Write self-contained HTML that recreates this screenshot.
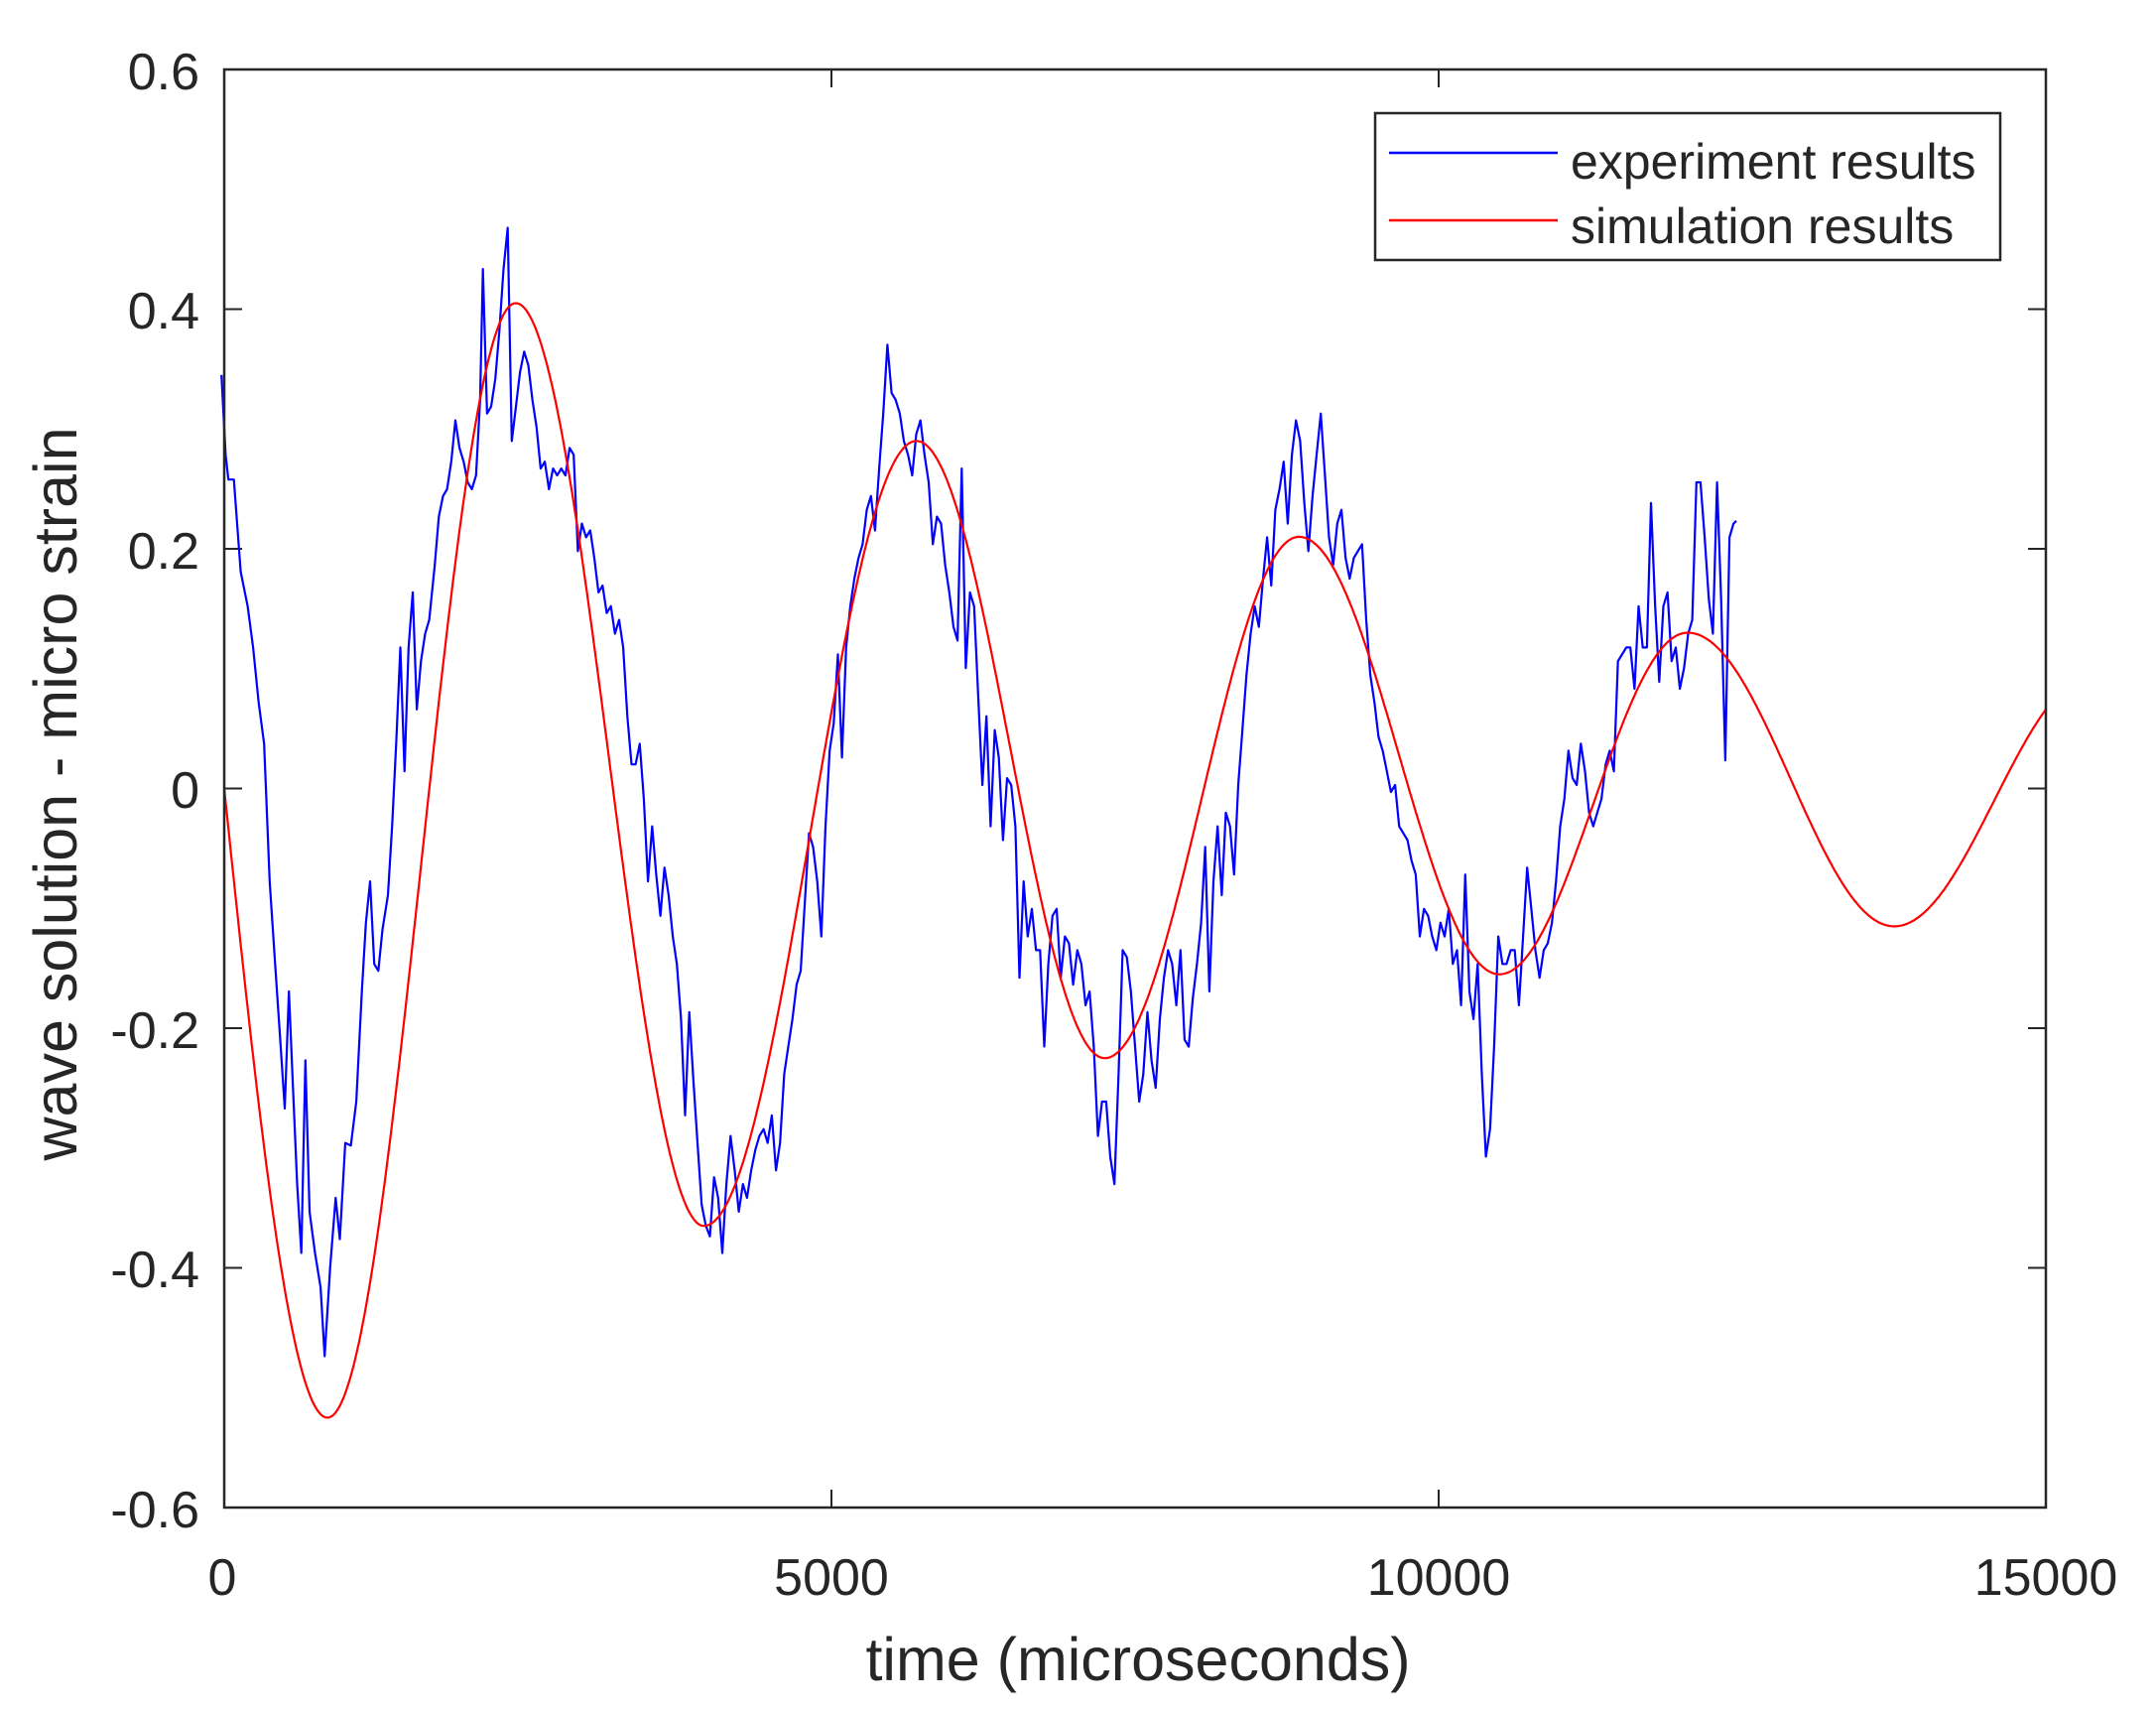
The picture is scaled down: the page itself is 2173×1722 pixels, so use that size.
<!DOCTYPE html>
<html><head><meta charset="utf-8"><style>
html,body{margin:0;padding:0;background:#fff;}
svg{display:block;}
text{font-family:"Liberation Sans",Arial,sans-serif;fill:#262626;}
</style></head><body>
<svg id="s" width="2173" height="1722" viewBox="0 0 2173 1722" xmlns="http://www.w3.org/2000/svg">
<rect x="0" y="0" width="2173" height="1722" fill="#fff"/>
<g id="ticks" stroke="#262626" stroke-width="2"></g>
<g font-size="52" text-anchor="end">
<text x="201" y="90">0.6</text>
<text x="201" y="331">0.4</text>
<text x="201" y="573">0.2</text>
<text x="201" y="814">0</text>
<text x="201" y="1056">-0.2</text>
<text x="201" y="1297">-0.4</text>
<text x="201" y="1539">-0.6</text>
</g>
<g font-size="52" text-anchor="middle">
<text x="224" y="1607">0</text>
<text x="838" y="1607">5000</text>
<text x="1450" y="1607">10000</text>
<text x="2062" y="1607">15000</text>
</g>
<text x="1147" y="1693" font-size="61" text-anchor="middle">time (microseconds)</text>
<text transform="translate(77,800) rotate(-90)" font-size="61" text-anchor="middle">wave solution - micro strain</text>
<path id="blue" fill="none" stroke="#0000ff" stroke-width="2.2" stroke-linejoin="round"/>
<path id="red" fill="none" stroke="#ff0000" stroke-width="2.2"/>
<rect x="226" y="70" width="1836" height="1449" fill="none" stroke="#262626" stroke-width="2.5"/>
<rect x="1386" y="114" width="630" height="148" fill="#fff" stroke="#262626" stroke-width="2.5"/>
<line x1="1400" y1="154" x2="1570" y2="154" stroke="#0000ff" stroke-width="2.5"/>
<line x1="1400" y1="222" x2="1570" y2="222" stroke="#ff0000" stroke-width="2.5"/>
<text x="1583" y="180" font-size="50">experiment results</text>
<text x="1583" y="245" font-size="50">simulation results</text>
</svg>
<script>
var L=226,R=2062,T=70,B=1519;
function X(t){return L+(t/15000)*(R-L);}
function Y(v){return T+(0.6-v)/1.2*(B-T);}
var tk="";
for(var i=0;i<=3;i++){var x=X(i*5000);tk+='<line x1="'+x+'" y1="'+B+'" x2="'+x+'" y2="'+(B-18)+'"/><line x1="'+x+'" y1="'+T+'" x2="'+x+'" y2="'+(T+18)+'"/>';}
for(var j=0;j<=6;j++){var y=Y(-0.6+j*0.2);tk+='<line x1="'+L+'" y1="'+y+'" x2="'+(L+18)+'" y2="'+y+'"/><line x1="'+R+'" y1="'+y+'" x2="'+(R-18)+'" y2="'+y+'"/>';}
document.getElementById('ticks').innerHTML=tk;
var ex=[[850,-0.525],[2400,0.405],[3950,-0.365],[5700,0.29],[7250,-0.225],[8850,0.21],[10500,-0.155],[12050,0.13],[13750,-0.115],[15400,0.095]];
function red(t){
 if(t<=850)return -0.525*Math.sin(Math.PI/2*t/850);
 for(var k=0;k<ex.length-1;k++){if(t<=ex[k+1][0]){var a=ex[k],b=ex[k+1];var f=(t-a[0])/(b[0]-a[0]);return a[1]+(b[1]-a[1])*(1-Math.cos(Math.PI*f))/2;}}
 return 0;}
var d="";
for(var t=0;t<=15000;t+=15){d+=(t?"L":"M")+X(t).toFixed(1)+","+Y(red(t)).toFixed(1);}
document.getElementById('red').setAttribute('d',d);
var bp=[161,272,164,330,166,348,170,348,175,415,180,440,184,470,188,510,192,540,196,640,200,700,204,760,207,805,210,720,213,790,216,860,219,910,222,770,225,880,229,910,233,935,236,985,240,920,244,870,247,900,251,830,255,832,259,800,263,720,266,670,269,640,272,700,275,705,278,675,282,650,285,600,288,540,291,470,294,560,297,470,300,430,303,515,306,480,309,460,312,450,316,410,319,375,322,360,325,355,328,335,331,305,334,325,337,335,340,350,343,355,346,345,349,290,351,195,354,300,357,295,360,275,363,240,366,195,369,165,372,320,375,295,378,270,381,255,384,265,387,290,390,310,393,340,396,335,399,355,402,340,405,345,408,340,411,345,414,325,417,330,420,400,423,380,426,390,429,385,432,405,435,430,438,425,441,445,444,440,447,460,450,450,453,470,456,520,459,555,462,555,465,540,468,580,471,640,474,600,477,635,480,665,483,630,486,650,489,680,492,700,495,740,498,810,501,735,504,785,507,830,510,875,513,890,516,898,519,855,522,870,525,910,528,860,531,825,534,850,537,880,540,860,543,870,546,850,549,835,552,825,555,820,558,830,561,810,564,850,567,830,570,780,573,760,576,740,579,715,582,705,585,655,588,605,591,615,594,640,597,680,600,600,603,545,606,525,609,475,612,550,615,470,618,440,621,420,624,405,627,395,630,370,633,360,636,385,639,340,642,300,645,250,648,285,651,290,654,300,657,320,660,330,663,345,666,315,669,305,672,330,675,350,678,395,681,375,684,380,687,410,690,430,693,455,696,465,699,340,702,485,705,430,708,440,711,505,714,570,717,520,720,600,723,530,726,550,729,610,732,565,735,570,738,600,741,710,744,640,747,680,750,660,753,690,756,690,759,760,762,700,765,665,768,660,771,710,774,680,777,685,780,715,783,690,786,700,789,730,792,720,795,760,798,825,801,800,804,800,807,840,810,860,813,780,816,690,819,695,822,720,825,760,828,800,831,780,834,735,837,770,840,790,843,740,846,710,849,690,852,700,855,730,858,690,861,755,864,760,867,725,870,700,873,670,876,615,879,720,882,640,885,600,888,650,891,590,894,600,897,635,900,570,903,530,906,490,909,460,912,440,915,455,918,420,921,390,924,425,927,370,930,355,933,335,936,380,939,330,942,305,945,320,948,365,951,400,954,360,957,330,960,300,963,345,966,390,969,410,972,380,975,370,978,405,981,420,984,405,987,400,990,395,993,450,996,490,999,510,1002,535,1005,545,1008,560,1011,575,1014,570,1017,600,1020,605,1023,610,1026,625,1029,635,1032,680,1035,660,1038,665,1041,680,1044,690,1047,670,1050,680,1053,660,1056,700,1059,690,1062,730,1065,635,1068,720,1071,740,1074,700,1077,780,1080,840,1083,820,1086,760,1089,680,1092,700,1095,700,1098,690,1101,690,1104,730,1107,680,1110,630,1113,660,1116,690,1119,710,1122,690,1125,685,1128,670,1131,640,1134,600,1137,580,1140,545,1143,565,1146,570,1149,540,1152,560,1155,590,1158,600,1161,590,1164,580,1167,555,1170,545,1173,560,1176,480,1179,475,1182,470,1185,470,1188,500,1191,440,1194,470,1197,470,1200,365,1203,440,1206,495,1209,440,1212,430,1215,480,1218,470,1221,500,1224,485,1227,460,1230,450,1233,350,1236,350,1239,390,1242,435,1245,460,1248,350,1251,435,1254,552,1257,390,1260,380,1262,378];
var db="";
for(var i=0;i<bp.length;i+=2){var x=L+(bp[i]-163)*(R-L)/1324,y=T+(bp[i+1]-50)*(B-T)/1045;db+=(i?"L":"M")+x.toFixed(1)+","+y.toFixed(1);}
document.getElementById('blue').setAttribute('d',db);
</script>
</body></html>
